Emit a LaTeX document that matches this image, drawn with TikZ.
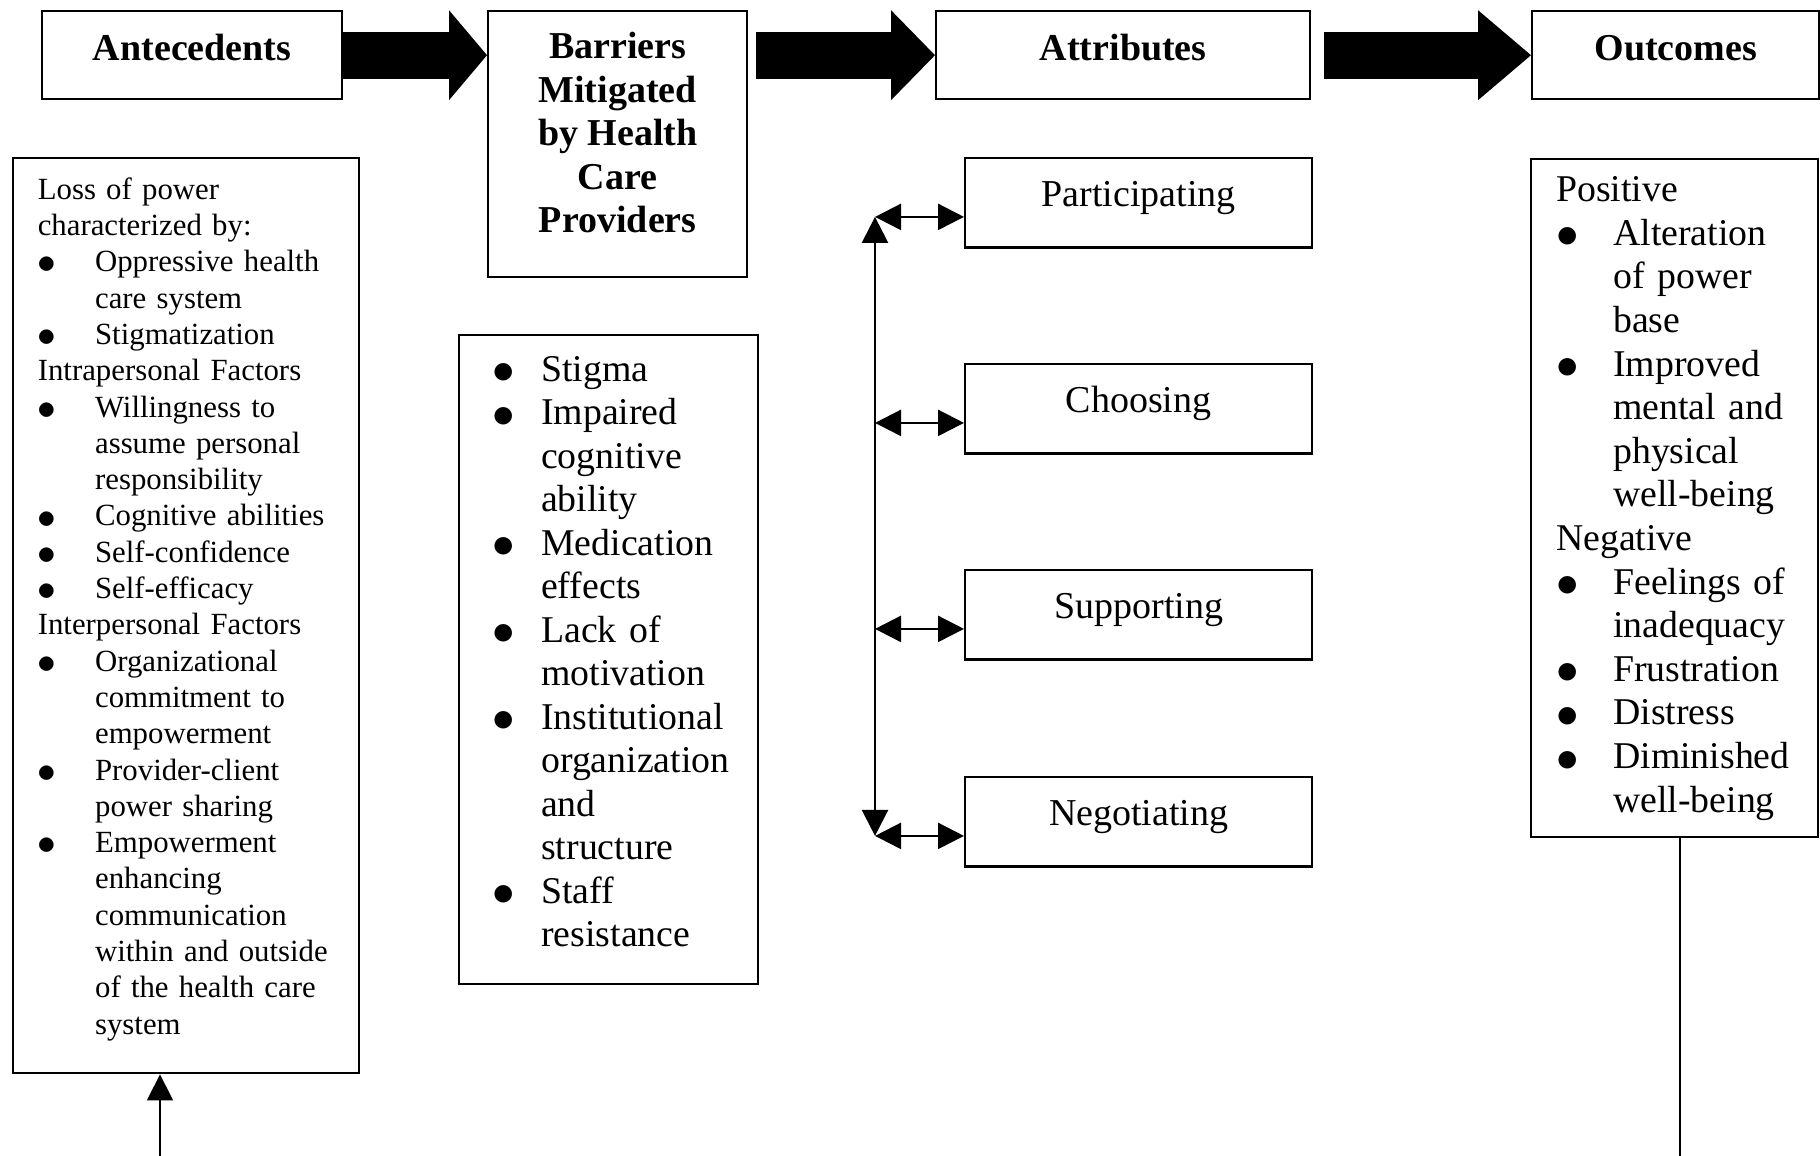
\documentclass[tikz,border=0pt]{standalone}
\usepackage{graphicx}
\usepackage{fontspec}
\setmainfont{Liberation Serif}
\usetikzlibrary{arrows.meta}
\usetikzlibrary{calc}

\newlength\itmwd
\newcommand\itm[1]{\mbox{\makebox[\itmwd][l]{\raisebox{-0.07em}{\scalebox{1.3}{$\bullet$}}}#1}}
\newcommand\ind[1]{\mbox{\hspace*{\itmwd}#1}}

\begin{document}
\begin{tikzpicture}[
    x=0.5pt, y=-0.5pt,
    line width=1.2pt,
    header/.style={
      draw, anchor=north west, align=center, inner sep=0pt,
      font=\bfseries\fontsize{19pt}{21.8pt}\selectfont,
      text height=24.5pt, text depth=19.5pt
    },
    attrbox/.style={
      draw, anchor=north west, inner sep=0pt, minimum width=173.5pt,
      font=\fontsize{19pt}{21.8pt}\selectfont,
      text height=24.2pt, text depth=20.5pt
    },
    listbox/.style={
      draw, anchor=north west, align=left, inner ysep=0pt,
      execute at begin node={\setlength\itmwd{#1}}
    },
    fatarrow/.style={
      line width=23.5pt, -{Triangle[width=45pt,length=#1,line width=0pt]}
    },
    twoway/.style={
      {Triangle[width=13pt,length=13pt]}-{Triangle[width=13pt,length=13pt]}
    },
    arrowtip/.style={
      -{Triangle[width=13pt,length=13pt]}
    }
  ]
    \useasboundingbox (0,0) rectangle (1820,1156);

    % top row
    \coordinate (AN) at (  41, 10);
    \coordinate (BA) at ( 487, 10);
    \coordinate (AT) at ( 935, 10);
    \coordinate (OU) at (1531, 10);

    \node[header, minimum width=150pt] (ANT) at (AN) {Antecedents};
    \node[header, minimum width=129.5pt, text height=110.85pt, text depth=22.15pt]
      (BAT) at (BA) {Barriers\\Mitigated\\by Health\\Care\\Providers};
    \node[header, minimum width=187pt]   (ATT) at (AT) {Attributes};
    \node[header, minimum width=143.5pt] (OUT) at (OU) {Outcomes};

    \draw[fatarrow=19pt]   (ANT.east) -- (ANT.east -| BAT.west);
    \draw[fatarrow=22pt]   ($(BAT.east |- ATT.west)+(4pt,0)$) -- (ATT.west);
    \draw[fatarrow=26.5pt] ($(ATT.east)+(6.5pt,0)$) -- (OUT.west);

    % antecedents
    \coordinate (LO) at (12, 157);
    \node[listbox=28.65pt, text width=148.15pt, inner xsep=12.3pt,
          text height=20.5pt, text depth=437pt,
          font=\fontsize{15.4pt}{18.15pt}\selectfont] (LOT) at (LO) {%
      Loss of power\\
      characterized by:\\
      \itm{Oppressive health}\\
      \ind{care system}\\
      \itm{Stigmatization}\\
      Intrapersonal Factors\\
      \itm{Willingness to}\\
      \ind{assume personal}\\
      \ind{responsibility}\\
      \itm{Cognitive abilities}\\
      \itm{Self-confidence}\\
      \itm{Self-efficacy}\\
      Interpersonal Factors\\
      \itm{Organizational}\\
      \ind{commitment to}\\
      \ind{empowerment}\\
      \itm{Provider-client}\\
      \ind{power sharing}\\
      \itm{Empowerment}\\
      \ind{enhancing}\\
      \ind{communication}\\
      \ind{within and outside}\\
      \ind{of the health care}\\
      \ind{system}};

    \coordinate (LI) at (160, 1156);
    \draw[arrowtip, line width=0.8pt] (LI) -- (LI |- LOT.south);

    % barriers
    \coordinate (ST) at (458, 334);
    \node[listbox=24.5pt, text width=116.5pt, inner xsep=16.5pt,
          text height=23pt, text depth=301.5pt,
          font=\fontsize{18.9pt}{21.75pt}\selectfont] (STT) at (ST) {%
      \itm{Stigma}\\
      \itm{Impaired}\\
      \ind{cognitive}\\
      \ind{ability}\\
      \itm{Medication}\\
      \ind{effects}\\
      \itm{Lack of}\\
      \ind{motivation}\\
      \itm{Institutional}\\
      \ind{organization}\\
      \ind{and}\\
      \ind{structure}\\
      \itm{Staff}\\
      \ind{resistance}};

    % attributes
    \coordinate (PA) at (964, 157);
    \coordinate (CH) at (964, 363);
    \coordinate (SU) at (964, 569);
    \coordinate (NE) at (964, 776);

    \node[attrbox] (PAT) at (PA) {Participating};
    \node[attrbox] (CHT) at (CH) {Choosing};
    \node[attrbox] (SUT) at (SU) {Supporting};
    \node[attrbox] (NET) at (NE) {Negotiating};

    \coordinate (PAJ) at ($(PAT.west)+(-44.5pt,-7pt)$);
    \coordinate (NEJ) at ($(NET.west)+(-44.5pt,-7pt)$);

    \draw[twoway] (PAJ) -- (NEJ);
    \draw[twoway] (PAJ) -- (PAJ -| PAT.west);
    \draw[twoway] ($(CHT.west)+(-44.5pt,-7pt)$) -- ($(CHT.west)+(0,-7pt)$);
    \draw[twoway] ($(SUT.west)+(-44.5pt,-7pt)$) -- ($(SUT.west)+(0,-7pt)$);
    \draw[twoway] (NEJ) -- (NEJ -| NET.west);

    % outcomes
    \coordinate (RE) at (1530, 158);
    \node[listbox=28.5pt, text width=118.5pt, inner xsep=12.5pt,
          text height=21.25pt, text depth=317.75pt,
          font=\fontsize{18.9pt}{21.8pt}\selectfont] (RET) at (RE) {%
      Positive\\
      \itm{Alteration}\\
      \ind{of power}\\
      \ind{base}\\
      \itm{Improved}\\
      \ind{mental and}\\
      \ind{physical}\\
      \ind{well-being}\\
      Negative\\
      \itm{Feelings of}\\
      \ind{inadequacy}\\
      \itm{Frustration}\\
      \itm{Distress}\\
      \itm{Diminished}\\
      \ind{well-being}};

    \coordinate (OL) at (1680, 1156);
    \draw[line width=0.8pt] (OL |- RET.south) -- (OL);
\end{tikzpicture}
\end{document}
